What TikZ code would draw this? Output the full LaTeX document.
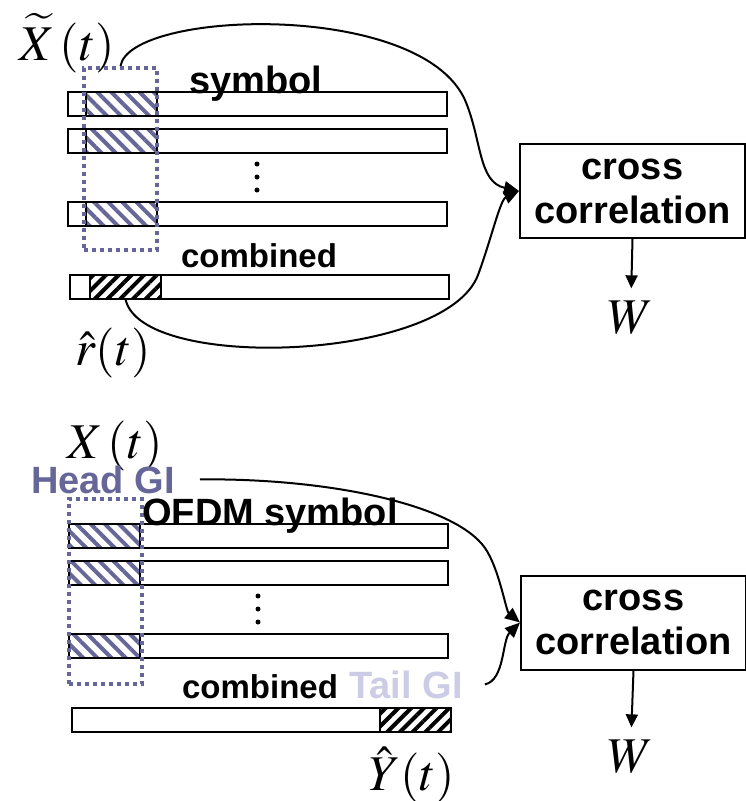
\documentclass[tikz,border=0pt]{standalone}
\usepackage{mathptmx}
\usepackage{fontspec}
\setmainfont{Liberation Sans}
\usepackage{xcolor}
\definecolor{slate}{RGB}{102,102,153}
\definecolor{lilac}{RGB}{204,204,230}
\usetikzlibrary{arrows.meta,positioning,patterns.meta}
\tikzset{
  slot/.style={draw=black, line width=2pt, fill=white, inner sep=0pt, outer sep=0pt,
               minimum width=379pt, minimum height=24pt},
  gihead/.style={draw=black, line width=2pt, inner sep=0pt, outer sep=0pt,
                 minimum width=71pt, minimum height=24pt,
                 pattern={Lines[angle=-45,distance=10pt,line width=4pt]}, pattern color=slate},
  gitail/.style={gihead, pattern={Lines[angle=45,distance=9pt,line width=4pt]}, pattern color=black},
  window/.style={draw=slate, line width=4pt, dash pattern=on 4pt off 4pt,
                 inner sep=0pt, minimum width=73pt},
  word/.style={font=\fontsize{38}{44}\selectfont\bfseries, inner sep=0pt, anchor=base},
  wordsm/.style={word, font=\fontsize{33}{36}\selectfont\bfseries},
  sig/.style={font=\fontsize{50}{52}\selectfont, inner sep=0pt, anchor=base},
  corr/.style={draw=black, line width=2pt, inner sep=0pt, minimum width=225pt,
               minimum height=94pt, align=center, font=\fontsize{38}{44}\selectfont\bfseries},
  feed/.style={line width=2pt, -{Triangle[length=15pt,width=13pt]}},
  result/.style={line width=2pt, -{Triangle[length=13pt,width=12pt]}},
}

\begin{document}
\begin{tikzpicture}[x=1pt,y=-1pt]
\fill[white] (0,0) rectangle (746,801);
\useasboundingbox (0,0) rectangle (746,801);

% --- upper half: guard interval taken from the symbol heads
\node[slot] (s1) at (257.5,104) {};
\node[slot] (s2) at (257.5,141) {};
\node[slot] (s3) at (257.5,214) {};
\node[slot] (sc) at (259,287) {};
\node[gihead] (g1) at (121,104) {};
\node[gihead] (g2) at (121,141) {};
\node[gihead] (g3) at (121,214) {};
\node[gitail] (gc) at (125.5,287) {};
\node[window, minimum height=182pt] (win1) at (120.5,159) {};
\foreach \y in {164,177,190}
  \fill (257,\y) circle (2.5pt);

\node[word] (sym1) at (256,93) {symbol};
\node[wordsm] (cmb1) at (259,267) {combined};
\node[sig] (xt) at (67,60) {$\widetilde{X}\,(t)$};
\node[sig] (rt) at (113,365) {$\hat{r}(t)$};

\node[corr] (cc1) at (632.5,191) {cross\\correlation};
\node[sig] (w1) at (631,333) {$W$};

\draw[feed] (win1.north) .. controls (130,10) and (420,0) .. (465,100)
  .. controls (482,140) and (478,182) .. (cc1.west);
\draw[feed] (gc.south) .. controls (140,372) and (445,362) .. (478,275)
  .. controls (491,240) and (500,200) .. (cc1.west);
\draw[result, shorten >=12pt] (cc1.south) -- (w1.north);

% --- lower half: head GI against the combined tail GI
\node[slot] (o1) at (258,536) {};
\node[slot] (o2) at (258,573) {};
\node[slot] (o3) at (258,646) {};
\node[slot] (oc) at (261,719.5) {};
\node[gihead] (h1) at (104,536) {};
\node[gihead] (h2) at (104,573) {};
\node[gihead] (h3) at (104,646) {};
\node[gitail] (tc) at (415.5,719.5) {};
\node[window, minimum height=185pt] (win2) at (105.5,591.5) {};
\foreach \y in {596,609,622}
  \fill (258,\y) circle (2.5pt);

\node[sig] (xb) at (115,458) {$X\,(t)$};
\node[word, text=slate] (hg) at (103,493) {Head GI};
\node[word] (sym2) at (270,525) {OFDM symbol};
\node[wordsm] (cmb2) at (260,698) {combined};
\node[word, text=lilac] (tg) at (406,698) {Tail GI};
\node[sig] (yt) at (412,790) {$\hat{Y}(t)$};

\node[corr] (cc2) at (633.5,622.5) {cross\\correlation};
\node[sig] (w2) at (631,772) {$W$};

\coordinate[right=25pt of hg.east] (hgend);
\coordinate[right=22pt of tg.east] (tgend);
\draw[feed] (hgend) .. controls (330,478) and (455,505) .. (485,548)
  .. controls (499,568) and (506,611) .. (cc2.west);
\draw[feed] (tgend) .. controls (505,680) and (502,640) .. (cc2.west);
\draw[result, shorten >=12pt] (cc2.south) -- (w2.north);
\end{tikzpicture}
\end{document}
